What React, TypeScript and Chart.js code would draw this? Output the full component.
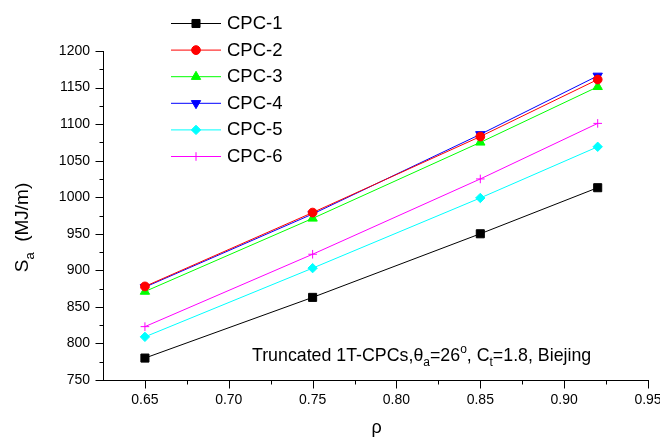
import React, { useEffect, useRef } from 'react';
import { Chart, registerables } from 'chart.js';
import { drawPoint } from 'chart.js/helpers';

Chart.register(...registerables);

const rho = [0.65, 0.75, 0.85, 0.92];
const seriesNames = ['CPC-1', 'CPC-2', 'CPC-3', 'CPC-4', 'CPC-5', 'CPC-6'];
const cpc1 = [780, 863, 950, 1013];
const cpc2 = [878, 979, 1083, 1161];
const cpc3 = [871, 971, 1075, 1151];
const cpc4 = [877, 977, 1086, 1166];
const cpc5 = [809, 903, 999, 1069];
const cpc6 = [823, 922, 1025, 1101];
const xMajorTicks = [0.65, 0.7, 0.75, 0.8, 0.85, 0.9, 0.95];
const xMinorTicks = [0.675, 0.725, 0.775, 0.825, 0.875, 0.925];
const yMajorTicks = [750, 800, 850, 900, 950, 1000, 1050, 1100, 1150, 1200];
const yMinorTicks = [775, 825, 875, 925, 975, 1025, 1075, 1125, 1175];

const FONT = '"Liberation Sans", Arial, Helvetica, sans-serif';

const styles = [
  { color: '#000000', pointStyle: 'rect', radius: 5.7, rotation: 0 },
  { color: '#FF0000', pointStyle: 'circle', radius: 4.4, rotation: 0 },
  { color: '#00FF00', pointStyle: 'triangle', radius: 5.4, rotation: 0 },
  { color: '#0000FF', pointStyle: 'triangle', radius: 5.4, rotation: 180 },
  { color: '#00FFFF', pointStyle: 'rectRot', radius: 4.7, rotation: 0 },
  { color: '#FF00FF', pointStyle: 'cross', radius: 4.3, rotation: 0 },
];

type Seg = { t: string; m?: 'sub' | 'sup' };

function drawRich(ctx: CanvasRenderingContext2D, segs: Seg[], x: number, y: number, size: number, align: 'left' | 'center') {
  const small = Math.round(size * 0.68);
  const widths = segs.map((s) => {
    ctx.font = `${s.m ? small : size}px ${FONT}`;
    return ctx.measureText(s.t).width;
  });
  const total = widths.reduce((a, b) => a + b, 0);
  let cx = align === 'center' ? x - total / 2 : x;
  ctx.textAlign = 'left';
  ctx.textBaseline = 'alphabetic';
  segs.forEach((s, i) => {
    ctx.font = `${s.m ? small : size}px ${FONT}`;
    const dy = s.m === 'sub' ? size * 0.3 : s.m === 'sup' ? -size * 0.45 : 0;
    ctx.fillText(s.t, cx, y + dy);
    cx += widths[i];
  });
}

const decorPlugin = {
  id: 'decor',
  afterDraw(chart: any) {
    const ctx: CanvasRenderingContext2D = chart.ctx;
    const xs = chart.scales.x;
    const ys = chart.scales.y;
    const area = chart.chartArea;
    ctx.save();
    ctx.strokeStyle = '#000';
    ctx.lineWidth = 1;
    ctx.beginPath();
    const bottom = Math.round(area.bottom) + 0.5;
    const left = Math.round(area.left) + 0.5;
    xMajorTicks.forEach((v) => {
      const px = Math.round(xs.getPixelForValue(v)) + 0.5;
      ctx.moveTo(px, bottom);
      ctx.lineTo(px, bottom + 8);
    });
    xMinorTicks.forEach((v) => {
      const px = Math.round(xs.getPixelForValue(v)) + 0.5;
      ctx.moveTo(px, bottom);
      ctx.lineTo(px, bottom + 4);
    });
    yMajorTicks.forEach((v) => {
      const py = Math.round(ys.getPixelForValue(v)) + 0.5;
      ctx.moveTo(left, py);
      ctx.lineTo(left - 8, py);
    });
    yMinorTicks.forEach((v) => {
      const py = Math.round(ys.getPixelForValue(v)) + 0.5;
      ctx.moveTo(left, py);
      ctx.lineTo(left - 4, py);
    });
    ctx.stroke();

    // Legend
    chart.data.datasets.forEach((ds: any, i: number) => {
      const y = 23 + i * 26.6;
      const st = styles[i];
      ctx.strokeStyle = st.color;
      ctx.fillStyle = st.color;
      ctx.lineWidth = 1;
      ctx.beginPath();
      ctx.moveTo(171, y + 0.5);
      ctx.lineTo(221, y + 0.5);
      ctx.stroke();
      drawPoint(ctx, { pointStyle: st.pointStyle as any, radius: st.radius, rotation: st.rotation, borderWidth: 1 }, 196, y + 0.5);
      ctx.fillStyle = '#000';
      ctx.font = `18.5px ${FONT}`;
      ctx.textAlign = 'left';
      ctx.textBaseline = 'middle';
      ctx.fillText(ds.label, 227, y + 1);
    });

    // Annotation
    ctx.fillStyle = '#000';
    drawRich(
      ctx,
      [
        { t: 'Truncated 1T-CPCs,θ' },
        { t: 'a', m: 'sub' },
        { t: '=26' },
        { t: 'o', m: 'sup' },
        { t: ', C' },
        { t: 't', m: 'sub' },
        { t: '=1.8, Biejing' },
      ],
      252,
      361,
      17.8,
      'left'
    );

    // X title
    ctx.font = `18px ${FONT}`;
    ctx.textAlign = 'center';
    ctx.textBaseline = 'middle';
    ctx.fillText('ρ', (area.left + area.right) / 2 + 1, area.bottom + 48);

    // Y title
    ctx.save();
    ctx.translate(28, (area.top + area.bottom) / 2 + 12);
    ctx.rotate(-Math.PI / 2);
    drawRich(ctx, [{ t: 'S' }, { t: 'a', m: 'sub' }, { t: '  (MJ/m)' }], 0, 0, 19, 'center');
    ctx.restore();
    ctx.restore();
  },
};

export default function App() {
  const ref = useRef<HTMLCanvasElement | null>(null);
  useEffect(() => {
    if (!ref.current) return;
    const series = [cpc1, cpc2, cpc3, cpc4, cpc5, cpc6];
    const chart = new Chart(ref.current, {
      type: 'line',
      data: {
        datasets: series.map((vals, i) => ({
          label: seriesNames[i],
          data: rho.map((r, j) => ({ x: r, y: vals[j] })),
          borderColor: styles[i].color,
          backgroundColor: styles[i].color,
          borderWidth: 1,
          pointStyle: styles[i].pointStyle as any,
          pointRadius: styles[i].radius,
          pointRotation: styles[i].rotation,
          pointBorderWidth: 1,
          pointBorderColor: styles[i].color,
          pointBackgroundColor: styles[i].color,
          tension: 0,
        })),
      },
      options: {
        animation: false,
        responsive: false,
        layout: { padding: { top: 51, right: 12, left: 0, bottom: 0 } },
        plugins: { legend: { display: false }, tooltip: { enabled: false } },
        scales: {
          x: {
            type: 'linear',
            min: 0.625,
            max: 0.95,
            grid: { display: false, drawTicks: false },
            border: { display: true, color: '#000', width: 1 },
            afterBuildTicks: (scale: any) => {
              scale.ticks = xMajorTicks.map((v) => ({ value: v }));
            },
            ticks: {
              color: '#000',
              font: { size: 14, family: FONT },
              padding: 12,
              maxRotation: 0,
              autoSkip: false,
              callback: (v: any) => Number(v).toFixed(2),
            },
            afterFit: (scale: any) => {
              scale.height = 58;
              scale.paddingLeft = 0;
              scale.paddingRight = 0;
            },
          },
          y: {
            type: 'linear',
            min: 750,
            max: 1200,
            grid: { display: false, drawTicks: false },
            border: { display: true, color: '#000', width: 1 },
            afterBuildTicks: (scale: any) => {
              scale.ticks = yMajorTicks.map((v) => ({ value: v }));
            },
            ticks: {
              color: '#000',
              font: { size: 14, family: FONT },
              padding: 13,
              autoSkip: false,
              callback: (v: any) => String(v),
            },
            afterFit: (scale: any) => {
              scale.width = 103;
              scale.paddingTop = 0;
              scale.paddingBottom = 0;
            },
          },
        },
      },
      plugins: [decorPlugin],
    });
    return () => chart.destroy();
  }, []);
  return (
    <div style={{ position: 'absolute', left: 0, top: 0, width: 660, height: 438, background: '#fff' }}>
      <canvas ref={ref} width={660} height={438} style={{ display: 'block', width: 660, height: 438 }} />
    </div>
  );
}
